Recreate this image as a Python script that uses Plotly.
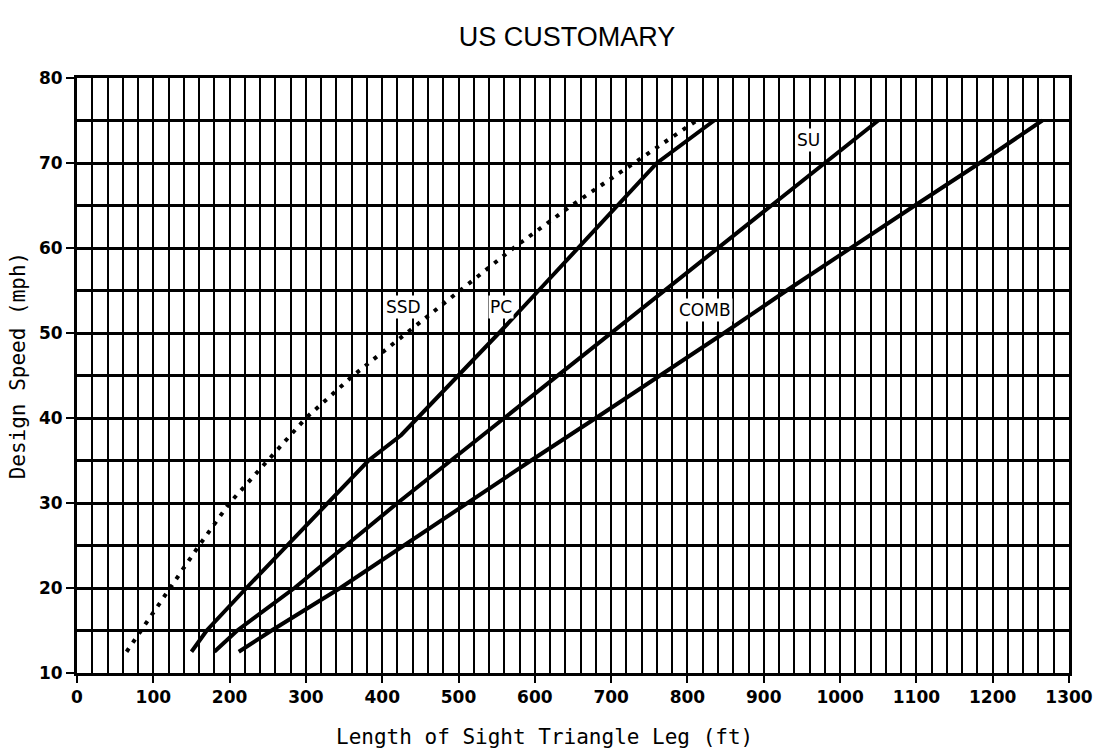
import plotly.graph_objects as go

# Design speed (mph) at which each curve is evaluated
speeds = [12.5, 15, 20, 25, 30, 35, 40, 45, 50, 55, 60, 65, 70, 75]

# Length of sight triangle leg (ft) for each design vehicle / criterion
ssd = [65, 84, 122, 160, 200, 250, 300, 362, 432, 500, 572, 648, 730, 812]
su = [180, 210, 285, 352, 420, 490, 560, 630, 700, 770, 840, 910, 980, 1050]
comb = [212, 255, 345, 428, 510, 595, 680, 765, 848, 930, 1013, 1098, 1183, 1265]

# Passenger-car curve has its own break points
pc_speeds = [12.5, 15, 20, 25, 31, 35, 38, 45, 50, 55, 60, 65, 70, 75]
pc = [150, 170, 222, 275, 338, 382, 425, 500, 553, 605, 657, 708, 760, 835]

# Curve labels and where they sit (ft, mph)
label_text = ["SSD", "PC", "SU", "COMB"]
label_x = [428, 555, 958, 823]
label_y = [53.1, 53.1, 72.7, 52.7]

x_ticks = list(range(0, 1301, 100))
y_ticks = list(range(10, 81, 10))

fig = go.Figure()

fig.add_trace(go.Scatter(
    x=ssd, y=speeds, mode="lines",
    line=dict(color="black", width=4, dash="4px,7px"),
    hoverinfo="skip", showlegend=False,
))
for xs, ys in ((pc, pc_speeds), (su, speeds), (comb, speeds)):
    fig.add_trace(go.Scatter(
        x=xs, y=ys, mode="lines",
        line=dict(color="black", width=4),
        hoverinfo="skip", showlegend=False,
    ))

for t, lx, ly in zip(label_text, label_x, label_y):
    fig.add_annotation(
        x=lx, y=ly, text=t, showarrow=False,
        font=dict(family="DejaVu Sans", size=17, color="black"),
        bgcolor="white", borderpad=1,
    )

# axis titles placed as paper annotations
fig.add_annotation(
    xref="paper", yref="paper", x=(547 - 77) / 998, y=-(737 - 673) / 595,
    text="Length of Sight Triangle Leg (ft)", showarrow=False,
    xanchor="center", yanchor="middle",
    font=dict(family="DejaVu Sans Mono", size=21, color="black"),
)
fig.add_annotation(
    xref="paper", yref="paper", x=-(77 - 18) / 998, y=(673 - 365) / 595,
    text="Design Speed (mph)", showarrow=False, textangle=-90,
    xanchor="center", yanchor="middle",
    font=dict(family="DejaVu Sans Mono", size=21, color="black"),
)

fig.update_layout(
    width=1105, height=756,
    margin=dict(l=77, r=30, t=78, b=83),
    paper_bgcolor="white", plot_bgcolor="white",
    title=dict(
        text="US CUSTOMARY", x=567 / 1105, xanchor="center", y=1 - 37 / 756, yanchor="middle",
        font=dict(family="Liberation Sans", size=27, color="black"),
    ),
    xaxis=dict(
        range=[0, 1300], tickvals=x_ticks, ticktext=[str(v) for v in x_ticks],
        showgrid=True, gridcolor="black", gridwidth=2,
        minor=dict(dtick=20, tick0=0, showgrid=True, gridcolor="black", gridwidth=2),
        showline=True, linecolor="black", linewidth=3, mirror=True,
        ticks="outside", ticklen=7, tickwidth=2, tickcolor="black",
        tickfont=dict(family="DejaVu Sans", size=17, color="black", weight="bold"),
        zeroline=False,
    ),
    yaxis=dict(
        range=[10, 80], tickvals=y_ticks, ticktext=[str(v) for v in y_ticks],
        showgrid=True, gridcolor="black", gridwidth=2.5,
        minor=dict(dtick=5, tick0=10, showgrid=True, gridcolor="black", gridwidth=2.5),
        showline=True, linecolor="black", linewidth=3, mirror=True,
        ticks="outside", ticklen=8, tickwidth=2, tickcolor="black",
        tickfont=dict(family="DejaVu Sans", size=17, color="black", weight="bold"),
        zeroline=False,
    ),
)

fig.write_html("out.html")
